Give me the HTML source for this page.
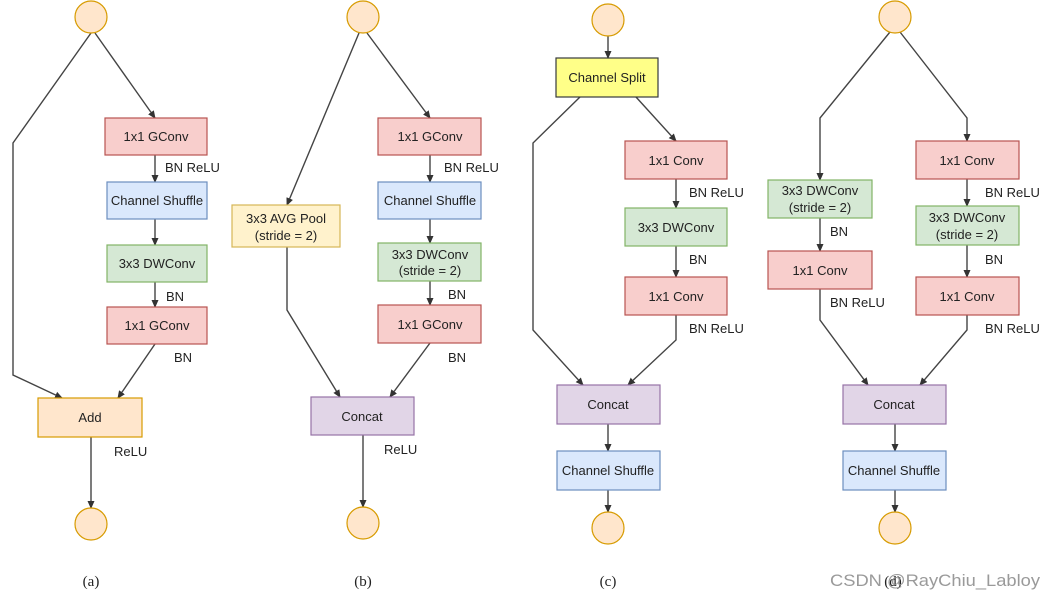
<!DOCTYPE html>
<html><head><style>body{margin:0;background:#fff}svg{display:block}</style></head><body>
<svg width="1051" height="601" viewBox="0 0 1051 601" xmlns="http://www.w3.org/2000/svg" font-family="Liberation Sans, sans-serif" font-size="13">
<defs><marker id="a" markerWidth="8" markerHeight="8" refX="7" refY="4" orient="auto" markerUnits="userSpaceOnUse"><path d="M0,0.5 L8,4 L0,7.5z" fill="#333"/></marker></defs>
<g fill="none" stroke="#444" stroke-width="1.4">
<polyline points="91,33 13,143 13,375 62,398" marker-end="url(#a)"/>
<line x1="95" y1="33" x2="155" y2="118" marker-end="url(#a)"/>
<line x1="155" y1="155" x2="155" y2="182" marker-end="url(#a)"/>
<line x1="155" y1="219" x2="155" y2="245" marker-end="url(#a)"/>
<line x1="155" y1="282" x2="155" y2="307" marker-end="url(#a)"/>
<line x1="155" y1="344" x2="118" y2="398" marker-end="url(#a)"/>
<line x1="91" y1="437" x2="91" y2="508" marker-end="url(#a)"/>
<line x1="359" y1="33" x2="287" y2="205" marker-end="url(#a)"/>
<line x1="367" y1="33" x2="430" y2="118" marker-end="url(#a)"/>
<line x1="430" y1="155" x2="430" y2="182" marker-end="url(#a)"/>
<line x1="430" y1="219" x2="430" y2="243" marker-end="url(#a)"/>
<line x1="430" y1="281" x2="430" y2="305" marker-end="url(#a)"/>
<polyline points="430,343 390,397" marker-end="url(#a)"/>
<polyline points="287,247 287,310 340,397" marker-end="url(#a)"/>
<line x1="363" y1="435" x2="363" y2="507" marker-end="url(#a)"/>
<line x1="608" y1="36" x2="608" y2="58" marker-end="url(#a)"/>
<polyline points="580,97 533,143 533,330 583,385" marker-end="url(#a)"/>
<line x1="636" y1="97" x2="676" y2="141" marker-end="url(#a)"/>
<line x1="676" y1="179" x2="676" y2="208" marker-end="url(#a)"/>
<line x1="676" y1="246" x2="676" y2="277" marker-end="url(#a)"/>
<polyline points="676,315 676,340 628,385" marker-end="url(#a)"/>
<line x1="608" y1="424" x2="608" y2="451" marker-end="url(#a)"/>
<line x1="608" y1="490" x2="608" y2="512" marker-end="url(#a)"/>
<polyline points="890,32 820,118 820,180" marker-end="url(#a)"/>
<polyline points="900,32 967,118 967,141" marker-end="url(#a)"/>
<line x1="820" y1="218" x2="820" y2="251" marker-end="url(#a)"/>
<polyline points="820,289 820,320 868,385" marker-end="url(#a)"/>
<line x1="967" y1="179" x2="967" y2="206" marker-end="url(#a)"/>
<line x1="967" y1="245" x2="967" y2="277" marker-end="url(#a)"/>
<polyline points="967,315 967,330 920,385" marker-end="url(#a)"/>
<line x1="895" y1="424" x2="895" y2="451" marker-end="url(#a)"/>
<line x1="895" y1="490" x2="895" y2="512" marker-end="url(#a)"/>
</g>
<g stroke="#d79b00" fill="#ffe6cc" stroke-width="1.2">
<circle cx="91" cy="17" r="16"/><circle cx="91" cy="524" r="16"/>
<circle cx="363" cy="17" r="16"/><circle cx="363" cy="523" r="16"/>
<circle cx="608" cy="20" r="16"/><circle cx="608" cy="528" r="16"/>
<circle cx="895" cy="17" r="16"/><circle cx="895" cy="528" r="16"/>
</g>
<g stroke-width="1.2">
<rect x="105" y="118" width="102" height="37" fill="#f8cecc" stroke="#b85450"/>
<rect x="107" y="182" width="100" height="37" fill="#dae8fc" stroke="#6c8ebf"/>
<rect x="107" y="245" width="100" height="37" fill="#d5e8d4" stroke="#82b366"/>
<rect x="107" y="307" width="100" height="37" fill="#f8cecc" stroke="#b85450"/>
<rect x="38" y="398" width="104" height="39" fill="#ffe6cc" stroke="#d79b00"/>
<rect x="232" y="205" width="108" height="42" fill="#fff2cc" stroke="#d6b656"/>
<rect x="378" y="118" width="103" height="37" fill="#f8cecc" stroke="#b85450"/>
<rect x="378" y="182" width="103" height="37" fill="#dae8fc" stroke="#6c8ebf"/>
<rect x="378" y="243" width="103" height="38" fill="#d5e8d4" stroke="#82b366"/>
<rect x="378" y="305" width="103" height="38" fill="#f8cecc" stroke="#b85450"/>
<rect x="311" y="397" width="103" height="38" fill="#e1d5e7" stroke="#9673a6"/>
<rect x="556" y="58" width="102" height="39" fill="#ffff88" stroke="#36393d"/>
<rect x="625" y="141" width="102" height="38" fill="#f8cecc" stroke="#b85450"/>
<rect x="625" y="208" width="102" height="38" fill="#d5e8d4" stroke="#82b366"/>
<rect x="625" y="277" width="102" height="38" fill="#f8cecc" stroke="#b85450"/>
<rect x="557" y="385" width="103" height="39" fill="#e1d5e7" stroke="#9673a6"/>
<rect x="557" y="451" width="103" height="39" fill="#dae8fc" stroke="#6c8ebf"/>
<rect x="768" y="180" width="104" height="38" fill="#d5e8d4" stroke="#82b366"/>
<rect x="768" y="251" width="104" height="38" fill="#f8cecc" stroke="#b85450"/>
<rect x="916" y="141" width="103" height="38" fill="#f8cecc" stroke="#b85450"/>
<rect x="916" y="206" width="103" height="39" fill="#d5e8d4" stroke="#82b366"/>
<rect x="916" y="277" width="103" height="38" fill="#f8cecc" stroke="#b85450"/>
<rect x="843" y="385" width="103" height="39" fill="#e1d5e7" stroke="#9673a6"/>
<rect x="843" y="451" width="103" height="39" fill="#dae8fc" stroke="#6c8ebf"/>
</g>
<g fill="#222" text-anchor="middle">
<text x="156" y="141">1x1 GConv</text>
<text x="157" y="205">Channel Shuffle</text>
<text x="157" y="268">3x3 DWConv</text>
<text x="157" y="330">1x1 GConv</text>
<text x="90" y="422">Add</text>
<text x="286" y="223">3x3 AVG Pool</text><text x="286" y="240">(stride = 2)</text>
<text x="430" y="141">1x1 GConv</text>
<text x="430" y="205">Channel Shuffle</text>
<text x="430" y="259">3x3 DWConv</text><text x="430" y="275">(stride = 2)</text>
<text x="430" y="329">1x1 GConv</text>
<text x="362" y="421">Concat</text>
<text x="607" y="82">Channel Split</text>
<text x="676" y="165">1x1 Conv</text>
<text x="676" y="232">3x3 DWConv</text>
<text x="676" y="301">1x1 Conv</text>
<text x="608" y="409">Concat</text>
<text x="608" y="475">Channel Shuffle</text>
<text x="820" y="195">3x3 DWConv</text><text x="820" y="212">(stride = 2)</text>
<text x="820" y="275">1x1 Conv</text>
<text x="967" y="165">1x1 Conv</text>
<text x="967" y="222">3x3 DWConv</text><text x="967" y="239">(stride = 2)</text>
<text x="967" y="301">1x1 Conv</text>
<text x="894" y="409">Concat</text>
<text x="894" y="475">Channel Shuffle</text>
</g>
<g fill="#222">
<text x="165" y="172">BN ReLU</text><text x="166" y="301">BN</text><text x="174" y="362">BN</text><text x="114" y="456">ReLU</text>
<text x="444" y="172">BN ReLU</text><text x="448" y="299">BN</text><text x="448" y="362">BN</text><text x="384" y="454">ReLU</text>
<text x="689" y="197">BN ReLU</text><text x="689" y="264">BN</text><text x="689" y="333">BN ReLU</text>
<text x="830" y="236">BN</text><text x="830" y="307">BN ReLU</text>
<text x="985" y="197">BN ReLU</text><text x="985" y="264">BN</text><text x="985" y="333">BN ReLU</text>
</g>
<g font-family="Liberation Serif, serif" font-size="15" fill="#222" text-anchor="middle">
<text x="91" y="586">(a)</text><text x="363" y="586">(b)</text><text x="608" y="586">(c)</text><text x="893" y="586">(d)</text>
</g>
<text x="830" y="586" font-size="17" fill="#888" fill-opacity="0.85" textLength="210" lengthAdjust="spacingAndGlyphs">CSDN @RayChiu_Labloy</text>
</svg>
</body></html>
